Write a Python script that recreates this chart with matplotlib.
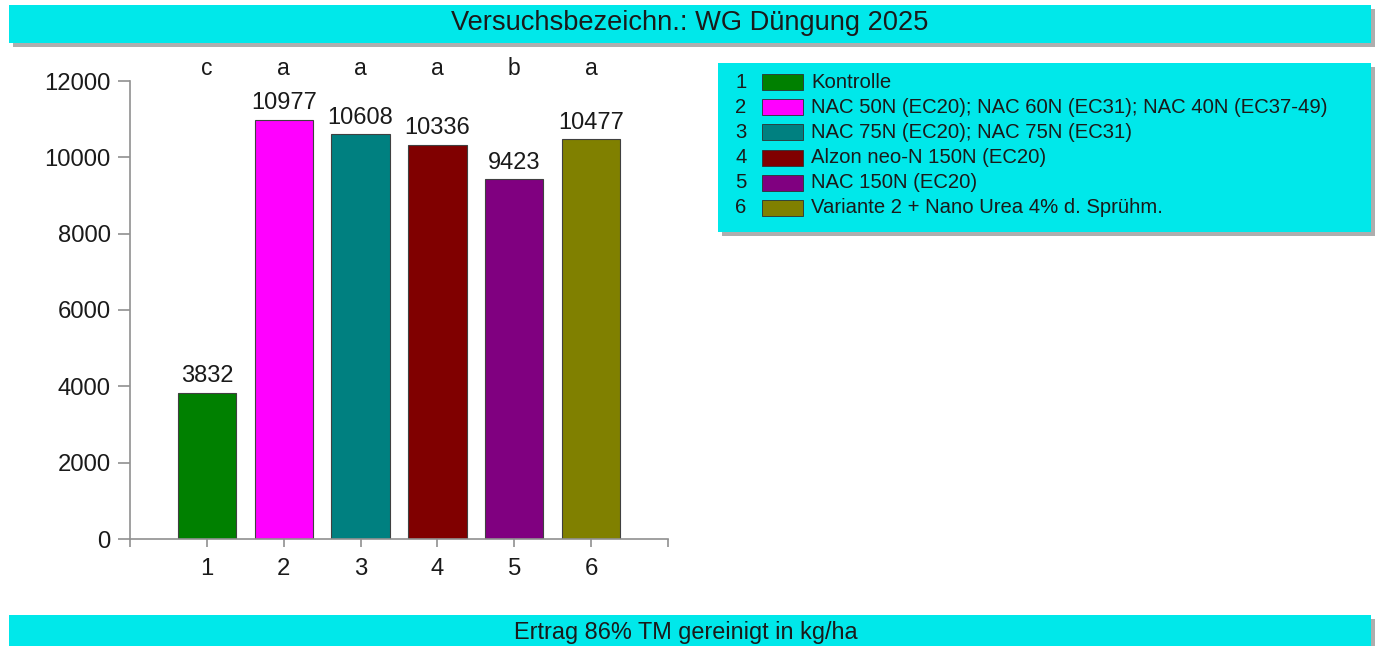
import matplotlib
matplotlib.use("Agg")
import matplotlib.pyplot as plt
from matplotlib.patches import Rectangle

plt.rcParams['font.family'] = ['Liberation Sans', 'DejaVu Sans']

# ---- data ----
categories = [1, 2, 3, 4, 5, 6]
values = [3832, 10977, 10608, 10336, 9423, 10477]
letters = ['c', 'a', 'a', 'a', 'b', 'a']
colors = ['#008000', '#FF00FF', '#008080', '#800000', '#800080', '#808000']
legend_labels = [
    'Kontrolle',
    'NAC 50N (EC20); NAC 60N (EC31); NAC 40N (EC37-49)',
    'NAC 75N (EC20); NAC 75N (EC31)',
    'Alzon neo-N 150N (EC20)',
    'NAC 150N (EC20)',
    'Variante 2 + Nano Urea 4% d. Sprühm.',
]
title = 'Versuchsbezeichn.: WG Düngung 2025'
ylabel_text = 'Ertrag 86% TM gereinigt in kg/ha'
yticks = [0, 2000, 4000, 6000, 8000, 10000, 12000]

W, H = 1381, 646
fig = plt.figure(figsize=(W / 100, H / 100), dpi=100)
fig.patch.set_facecolor('white')

CYAN = '#00E8EA'
SHADOW = '#9a9a9a'
TXT = '#1a1a1a'


def px_rect(x0, y0, x1, y1, **kw):
    """rectangle from pixel coords (top-left origin)"""
    return Rectangle((x0 / W, 1 - y1 / H), (x1 - x0) / W, (y1 - y0) / H,
                     transform=fig.transFigure, **kw)


def box(x0, y0, x1, y1):
    fig.add_artist(px_rect(x0 + 4, y0 + 4, x1 + 4, y1 + 4, facecolor=SHADOW,
                           edgecolor='none', alpha=0.8, zorder=0))
    fig.add_artist(px_rect(x0, y0, x1, y1, facecolor=CYAN,
                           edgecolor='none', zorder=1))


# title bar
box(9, 5, 1371, 43)
fig.text(690 / W, 1 - 23 / H, title, ha='center', va='center',
         fontsize=19.6, color=TXT, zorder=3)

# bottom bar
box(9, 615, 1371, 652)
fig.text(686 / W, 1 - 633 / H, ylabel_text, ha='center', va='center',
         fontsize=16.9, color=TXT, zorder=3)

# legend box
box(718, 63, 1371, 232)
row0, dy = 82, 25.2
for i, (lab, col) in enumerate(zip(legend_labels, colors)):
    yc = row0 + i * dy
    fig.text(741 / W, 1 - yc / H, str(categories[i]), ha='center', va='center',
             fontsize=14.6, color=TXT, zorder=3)
    fig.add_artist(px_rect(762, yc - 8, 803, yc + 8, facecolor=col,
                           edgecolor='#303030', linewidth=0.6, zorder=3))
    fig.text(811 / W, 1 - yc / H, lab, ha='left', va='center',
             fontsize=14.6, color=TXT, zorder=3)

# axes
ax = fig.add_axes([130 / W, 1 - 539 / H, (668 - 130) / W, (539 - 81) / H])
ax.set_facecolor('none')
bars = ax.bar(categories, values, width=0.76, color=colors,
              edgecolor='#404040', linewidth=0.8, zorder=2)
ax.set_xlim(0, 7)
ax.set_ylim(0, 12000)
ax.set_yticks(yticks)
ax.set_yticklabels([str(t) for t in yticks])
ax.set_xticks(range(0, 8))
ax.set_xticklabels([''] + [str(c) for c in categories] + [''])
for s in ['top', 'right']:
    ax.spines[s].set_visible(False)
for s in ['left', 'bottom']:
    ax.spines[s].set_color('#909090')
    ax.spines[s].set_linewidth(1.2)
ax.tick_params(axis='both', colors='#909090', width=1.2,
               labelsize=17.2, labelcolor=TXT)
ax.tick_params(axis='x', length=6, pad=8)
ax.tick_params(axis='y', length=9, pad=5)

for c, v, l in zip(categories, values, letters):
    ax.annotate(str(v), (c, v), xytext=(0, 4), textcoords='offset points',
                ha='center', va='bottom', fontsize=17, color=TXT)
    ax.text(c, 12340, l, ha='center', va='center', fontsize=16.5, color=TXT,
            clip_on=False)

fig.savefig('out.png', dpi=100)
